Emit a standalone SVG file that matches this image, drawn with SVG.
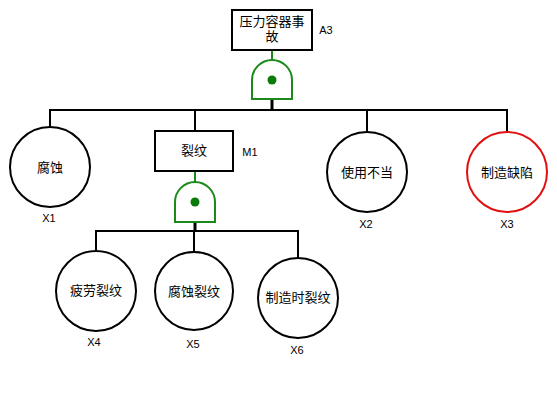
<svg xmlns="http://www.w3.org/2000/svg" width="557" height="398" viewBox="0 0 557 398">
<style>
.bg{fill:#fff}
.ev{fill:#fff;stroke:#000;stroke-width:2}
.red{fill:#fff;stroke:#e01010;stroke-width:2}
.gate{fill:#fff;stroke:#1a8a1a;stroke-width:2}
.dot{fill:#0a7a0a}
.gl{stroke:#1a8a1a;stroke-width:2;fill:none}
.ln{stroke:#000;stroke-width:2;fill:none}
.t{font-family:"Liberation Sans","Noto Sans CJK SC",sans-serif;font-size:13px;fill:#000;text-anchor:middle}
.lb{font-family:"Liberation Sans","Noto Sans CJK SC",sans-serif;font-size:11px;fill:#000;text-anchor:middle}
</style>
<rect class="bg" width="557" height="398"/>
<g id="connectors">
<line class="gl" x1="272" y1="50" x2="272" y2="61"/>
<line class="ln" x1="272" y1="99" x2="272" y2="110" style="stroke-width:3"/>
<path class="ln" d="M50,127 V110 H507 V132"/>
<line class="ln" x1="195" y1="110" x2="195" y2="131"/>
<line class="ln" x1="367" y1="110" x2="367" y2="132"/>
<line class="gl" x1="195" y1="171" x2="195" y2="183"/>
<line class="ln" x1="195" y1="222" x2="195" y2="231" style="stroke-width:3"/>
<path class="ln" d="M96,251 V231 H298 V258"/>
<line class="ln" x1="194" y1="231" x2="194" y2="252"/>
</g>
<g id="A3">
<rect class="ev" x="232" y="10" width="80" height="40"/>
<text class="t" x="272" y="26">压力容器事</text>
<text class="t" x="272" y="41">故</text>
<text class="lb" x="326" y="34">A3</text>
</g>
<g id="G1">
<path class="gate" d="M252,99 V80 A20,20 0 0 1 292,80 V99 Z"/>
<circle class="dot" cx="272" cy="80" r="4.5"/>
</g>
<g id="X1">
<circle class="ev" cx="50" cy="167" r="40"/>
<text class="t" x="50" y="172">腐蚀</text>
<text class="lb" x="49" y="222">X1</text>
</g>
<g id="M1">
<rect class="ev" x="155" y="131" width="78" height="40"/>
<text class="t" x="194" y="155">裂纹</text>
<text class="lb" x="250" y="156">M1</text>
</g>
<g id="G2">
<path class="gate" d="M175,222 V202 A20,20 0 0 1 215,202 V222 Z"/>
<circle class="dot" cx="195" cy="202" r="4.5"/>
</g>
<g id="X2">
<circle class="ev" cx="367" cy="172" r="40"/>
<text class="t" x="367" y="177">使用不当</text>
<text class="lb" x="366" y="228">X2</text>
</g>
<g id="X3">
<circle class="red" cx="507" cy="172" r="40"/>
<text class="t" x="507" y="177">制造缺陷</text>
<text class="lb" x="507" y="228">X3</text>
</g>
<g id="X4">
<circle class="ev" cx="96" cy="291" r="40"/>
<text class="t" x="96" y="295">疲劳裂纹</text>
<text class="lb" x="94" y="346">X4</text>
</g>
<g id="X5">
<circle class="ev" cx="194" cy="291" r="39"/>
<text class="t" x="194" y="296">腐蚀裂纹</text>
<text class="lb" x="193" y="348">X5</text>
</g>
<g id="X6">
<circle class="ev" cx="298" cy="298" r="40"/>
<text class="t" x="298" y="302">制造时裂纹</text>
<text class="lb" x="297" y="354">X6</text>
</g>
</svg>
